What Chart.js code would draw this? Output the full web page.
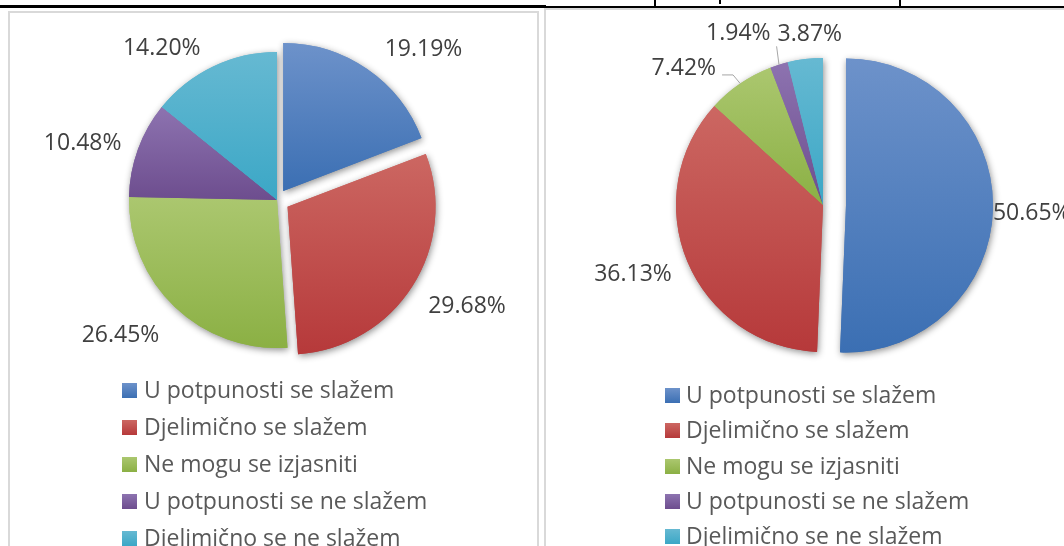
<!DOCTYPE html>
<html>
<head>
<meta charset="utf-8">
<script src="https://cdn.jsdelivr.net/npm/chart.js@4.4.1/dist/chart.umd.min.js"></script>
<style>
    body { margin: 0; width: 1064px; height: 546px; overflow: hidden; background: #fff; position: relative; font-family: "Open Sans", sans-serif; }
    .line { position: absolute; background: #000; }
    .panel { position: absolute; box-sizing: border-box; border: 2px solid #d9d9d9; }
    canvas { position: absolute; top: 0; }
    .legend { position: absolute; font-size: 23px; color: #595959; }
    .legend .item { position: relative; white-space: nowrap; }
    .legend .key { position: absolute; left: 0; width: 15px; height: 15px; }
</style>
</head>
<body>
<!-- ostaci tablice iznad grafikona -->
<div class="line" style="left:0;top:5px;width:546px;height:3px"></div>
<div class="line" style="left:545px;top:6px;width:519px;height:2px"></div>
<div class="line" style="left:654px;top:0;width:2px;height:7px"></div>
<div class="line" style="left:899px;top:0;width:2px;height:7px"></div>
<div class="line" style="left:719px;top:0;width:2px;height:4px"></div>

<div class="panel" style="left:8px;top:11px;width:531px;height:560px"></div>
<div class="panel" style="left:544px;top:8px;width:560px;height:560px"></div>

<canvas id="left" width="554" height="400" style="left:0"></canvas>
<canvas id="right" width="552" height="410" style="left:547px"></canvas>

<div class="legend" id="leftLegend" style="left:122px;top:371px"></div>
<div class="legend" id="rightLegend" style="left:665px;top:377px"></div>

<script>
// Podaci
const categories = [
    "U potpunosti se slažem",
    "Djelimično se slažem",
    "Ne mogu se izjasniti",
    "U potpunosti se ne slažem",
    "Djelimično se ne slažem"
];
const leftValues = [19.19, 29.68, 26.45, 10.48, 14.20];
const rightValues = [50.65, 36.13, 7.42, 1.94, 3.87];

// Izgled
const topColors = ["#6d92ca", "#cc6762", "#abc76f", "#8d73b0", "#66b9d2"];
const bottomColors = ["#3b6fb3", "#b6393a", "#8bb044", "#6d4d8e", "#3ba7c6"];
const labelFont = '23px "Open Sans"';
const labelPad = 20;
const boxH = 20;
const capH = 16.4;

// izvučeni dijelovi (px) i ručni pomaci oznaka, kao u originalu
const labelSetup = {
    left: {
        explode: [11, 12.5, 0, 0, 0],
        radius: 148,
        nudge: [[23, 3], [5, 2], [-14, 5], [0, 3], [-26, 7]],
        leaders: [false, false, false, false, false]
    },
    right: {
        explode: [23, 0, 0, 0, 0],
        radius: 147,
        nudge: [[-20, 3], [0, 0], [-27, 8], [-25, -4], [11, 3]],
        leaders: [false, false, true, true, false]
    }
};

const pieLook = {
    id: "pieLook",
    // pomak izvučenih dijelova (bez povećanja radijusa kao kod "offset")
    afterDatasetsUpdate(chart) {
        const setup = labelSetup[chart.canvas.id];
        chart.getDatasetMeta(0).data.forEach((arc, i) => {
            const mid = (arc.startAngle + arc.endAngle) / 2;
            arc.x += Math.cos(mid) * setup.explode[i];
            arc.y += Math.sin(mid) * setup.explode[i];
        });
    },
    beforeDatasetsDraw(chart) {
        const ctx = chart.ctx;
        const arcs = chart.getDatasetMeta(0).data;

        // gradijent po svakom dijelu (od vrha do dna dijela)
        arcs.forEach((arc, i) => {
            const cy = arc.y;
            const r = arc.outerRadius;
            const ys = [cy, cy + r * Math.sin(arc.startAngle), cy + r * Math.sin(arc.endAngle)];
            [-Math.PI / 2, Math.PI / 2, Math.PI * 1.5].forEach(a => {
                if (a > arc.startAngle && a < arc.endAngle) ys.push(cy + r * Math.sin(a));
            });
            const g = ctx.createLinearGradient(0, Math.min(...ys), 0, Math.max(...ys));
            g.addColorStop(0, topColors[i]);
            g.addColorStop(1, bottomColors[i]);
            arc.options = Object.assign({}, arc.options, { backgroundColor: g });
        });

        // sjena ispod
        ctx.save();
        ctx.shadowColor = "rgba(0,0,0,0.45)";
        ctx.shadowBlur = 7;
        ctx.shadowOffsetX = 1;
        ctx.shadowOffsetY = 2;
        arcs.forEach(arc => arc.draw(ctx));
        ctx.restore();
    },
    afterDatasetsDraw(chart) {
        const setup = labelSetup[chart.canvas.id];
        const ctx = chart.ctx;
        const values = chart.data.datasets[0].data;
        ctx.save();
        ctx.font = labelFont;
        ctx.textAlign = "center";
        ctx.textBaseline = "alphabetic";

        chart.getDatasetMeta(0).data.forEach((arc, i) => {
            const text = values[i].toFixed(2) + "%";
            const mid = (arc.startAngle + arc.endAngle) / 2;
            const ux = Math.cos(mid), uy = Math.sin(mid);
            const sx = arc.x, sy = arc.y;
            const r = arc.outerRadius;
            const w = ctx.measureText(text).width;
            const cx = sx + ux * (r + labelPad) + ux * w / 2 + setup.nudge[i][0];
            const cy = sy + uy * (r + labelPad) + uy * boxH / 2 + setup.nudge[i][1];

            ctx.fillStyle = "#404040";
            ctx.fillText(text, cx, cy + capH / 2);

            if (setup.leaders[i]) {
                const px = sx + ux * r, py = sy + uy * r;
                const L = cx - w / 2, R = cx + w / 2, T = cy - capH / 2, B = cy + capH / 2;
                const dx = Math.max(L - px, 0, px - R);
                const dy = Math.max(T - py, 0, py - B);
                ctx.beginPath();
                ctx.strokeStyle = "#a6a6a6";
                ctx.lineWidth = 1;
                if (dx >= dy) {
                    const dir = px > R ? 1 : -1;
                    const x0 = dir > 0 ? R + 6 : L - 6;
                    const y0 = Math.min(Math.max(py, T), B);
                    ctx.moveTo(x0, y0);
                    ctx.lineTo(x0 + dir * 11, y0);
                    ctx.lineTo(px, py);
                } else {
                    const x0 = Math.min(Math.max(px, L), R + 6);
                    const y0 = py > B ? B + 6 : T - 6;
                    ctx.moveTo(x0, y0);
                    ctx.lineTo(px, py);
                }
                ctx.stroke();
            }
        });
        ctx.restore();
    }
};

function makePie(id, values) {
    const setup = labelSetup[id];
    return new Chart(document.getElementById(id), {
        type: "pie",
        data: {
            labels: categories,
            datasets: [{
                data: values,
                backgroundColor: bottomColors,
                borderWidth: 0
            }]
        },
        options: {
            responsive: false,
            animation: false,
            events: [],
            radius: setup.radius,
            layout: { padding: 0 },
            plugins: {
                legend: { display: false },
                tooltip: { enabled: false }
            }
        },
        plugins: [pieLook]
    });
}

function buildLegend(id, rowH, keyTop, textLeft) {
    const box = document.getElementById(id);
    categories.forEach((name, i) => {
        const row = document.createElement("div");
        row.className = "item";
        row.style.height = rowH + "px";
        row.style.lineHeight = rowH + "px";
        row.style.paddingLeft = textLeft + "px";
        const key = document.createElement("span");
        key.className = "key";
        key.style.top = keyTop + "px";
        key.style.background = `linear-gradient(${topColors[i]}, ${bottomColors[i]})`;
        row.appendChild(key);
        row.appendChild(document.createTextNode(name));
        box.appendChild(row);
    });
}

makePie("left", leftValues);
makePie("right", rightValues);
buildLegend("leftLegend", 37, 12, 22);
buildLegend("rightLegend", 35.3, 11, 21);
</script>
</body>
</html>
